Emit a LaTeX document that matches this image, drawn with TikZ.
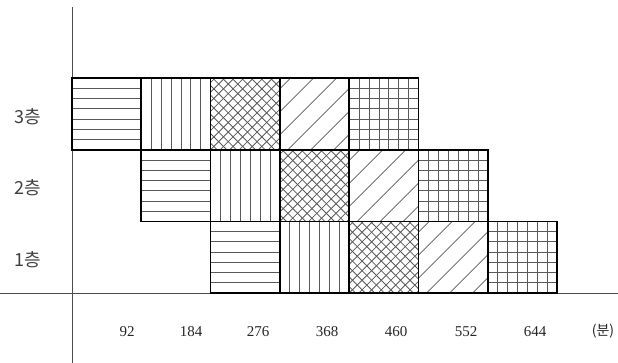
\documentclass[tikz,border=0pt]{standalone}
\usepackage{fontspec}
\setmainfont{Liberation Serif}
\newfontfamily\kr{Noto Sans CJK KR}
\newcommand\bw{69.3}
\newcommand\bh{71.7}
\tikzset{
  blk/.style={draw=black, line width=1.7pt, minimum width=69.3pt, minimum height=71.7pt, inner sep=0pt, outer sep=0pt, anchor=north west},
  hat/.style={draw=black!65, line width=0.8pt},
  axis/.style={draw=black!70, line width=1pt},
  ylab/.style={font=\kr\fontsize{18}{18}\selectfont, text=black!75},
  xlab/.style={font=\fontsize{15}{15}\selectfont, text=black!85},
}
% #1 name, #2 x, #3 y
\newcommand\hblk[3]{\begin{scope}\clip (#2,#3) rectangle ++(\bw,\bh);
  \foreach \k in {1,...,6}{\draw[hat] (#2,#3+\k*\bh/7) -- ++(\bw,0);}\end{scope}
  \node[blk] (#1) at (#2,#3) {};}
\newcommand\vblk[3]{\begin{scope}\clip (#2,#3) rectangle ++(\bw,\bh);
  \foreach \k in {1,...,6}{\draw[hat] (#2+\k*\bw/7,#3) -- ++(0,\bh);}\end{scope}
  \node[blk] (#1) at (#2,#3) {};}
\newcommand\gblk[3]{\begin{scope}\clip (#2,#3) rectangle ++(\bw,\bh);
  \foreach \k in {1,...,6}{\draw[hat] (#2,#3+\k*\bh/7) -- ++(\bw,0); \draw[hat] (#2+\k*\bw/7,#3) -- ++(0,\bh);}\end{scope}
  \node[blk] (#1) at (#2,#3) {};}
\newcommand\xblk[3]{\begin{scope}\clip (#2,#3) rectangle ++(\bw,\bh);
  \foreach \k in {-8,...,8}{\draw[hat] (#2+\k*9.6,#3+\bh) -- ++(\bh,-\bh); \draw[hat] (#2+\k*9.6+2,#3) -- ++(\bh,\bh);}\end{scope}
  \node[blk] (#1) at (#2,#3) {};}
\newcommand\dblk[3]{\begin{scope}\clip (#2,#3) rectangle ++(\bw,\bh);
  \foreach \k in {-4,...,3}{\draw[hat] (#2+\k*23+8,#3+\bh) -- ++(\bh,-\bh);}\end{scope}
  \node[blk] (#1) at (#2,#3) {};}
\begin{document}
\begin{tikzpicture}[x=1pt,y=-1pt]
\useasboundingbox (0,0) rectangle (618,363);
% axes
\coordinate (yt) at (72,7);
\coordinate (yb) at (72,363);
\coordinate (xl) at (0,293.1);
\coordinate (xr) at (618,293.1);
\draw[axis] (yt) -- (yb);
\draw[axis] (xl) -- (xr);
% row 3
\hblk{r3a}{72}{78}
\vblk{r3b}{141.3}{78}
\xblk{r3c}{210.6}{78}
\dblk{r3d}{279.9}{78}
\gblk{r3e}{349.2}{78}
% row 2
\hblk{r2a}{141.3}{149.7}
\vblk{r2b}{210.6}{149.7}
\xblk{r2c}{279.9}{149.7}
\dblk{r2d}{349.2}{149.7}
\gblk{r2e}{418.5}{149.7}
% row 1
\hblk{r1a}{210.6}{221.4}
\vblk{r1b}{279.9}{221.4}
\xblk{r1c}{349.2}{221.4}
\dblk{r1d}{418.5}{221.4}
\gblk{r1e}{487.8}{221.4}
% labels
\node[ylab] (l3) at (28,117) {3층};
\node[ylab] (l2) at (28,188) {2층};
\node[ylab] (l1) at (28,260) {1층};
\node[xlab] (t1) at (127,331.5) {92};
\node[xlab] (t2) at (191,331.5) {184};
\node[xlab] (t3) at (258,331.5) {276};
\node[xlab] (t4) at (327,331.5) {368};
\node[xlab] (t5) at (396,331.5) {460};
\node[xlab] (t6) at (466,331.5) {552};
\node[xlab] (t7) at (535,331.5) {644};
\node[xlab, font=\kr\fontsize{14}{14}\selectfont] (t8) at (603,331.5) {(분)};
\end{tikzpicture}
\end{document}
